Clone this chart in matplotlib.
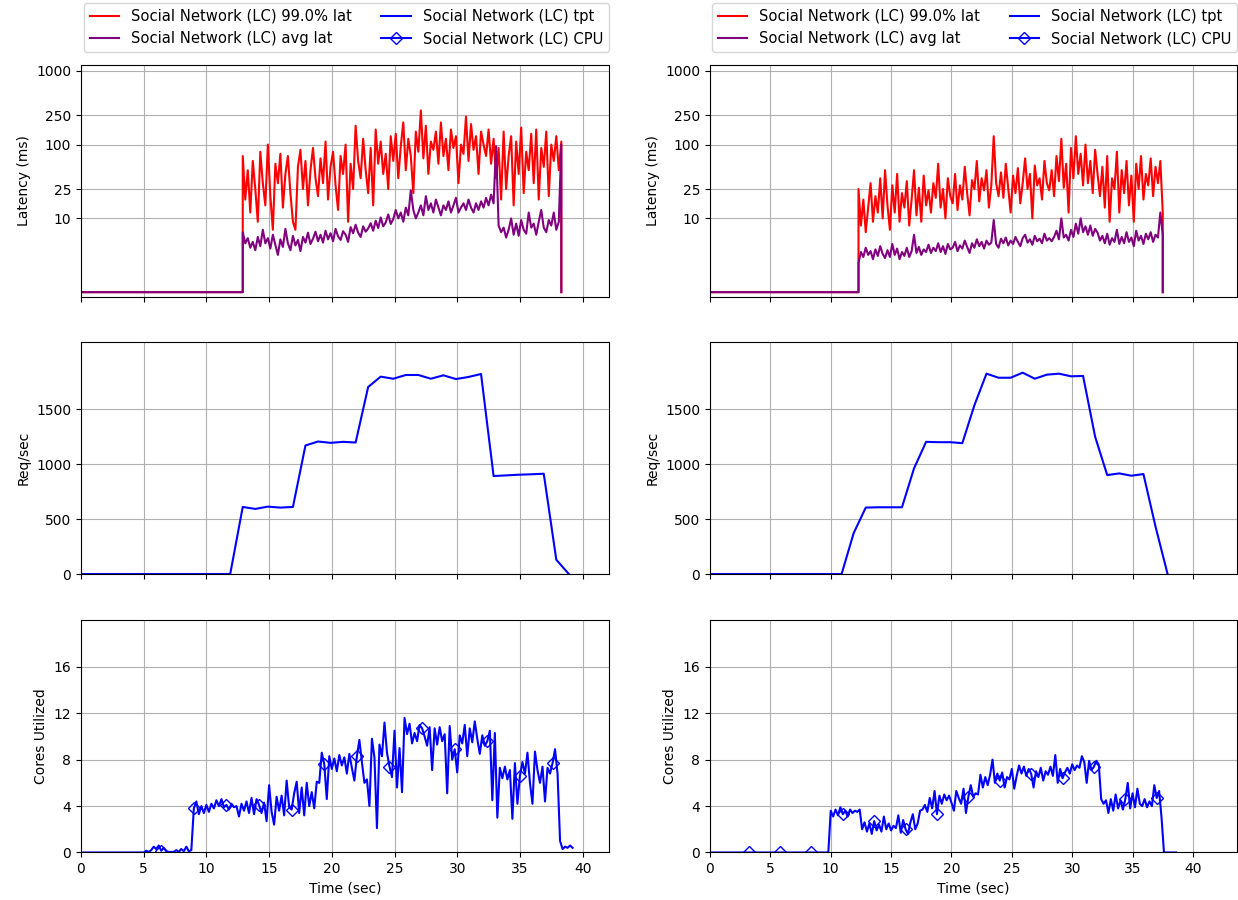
import matplotlib

matplotlib.use("Agg")
import matplotlib.pyplot as plt
import numpy as np

# ---- left run ----
lat_left_start = 12.9
p99_left = [
    70, 18, 45, 12, 60, 25, 9, 80, 30, 15, 100,
    20, 7, 55, 30, 75, 14, 40, 70, 22, 9,
    7, 50, 85, 25, 60, 15, 45, 90, 35, 20,
    65, 30, 110, 18, 50, 80, 28, 13, 70, 40,
    100, 9, 55, 25, 180, 60, 35, 120, 45, 22,
    90, 15, 160, 55, 110, 40, 75, 25, 130, 60,
    140, 35, 95, 200, 45, 120, 70, 22, 150, 80,
    290, 65, 180, 40, 110, 85, 150, 55, 200, 70,
    120, 45, 160, 90, 130, 30, 100, 75, 240, 60,
    190, 85, 130, 40, 150, 100, 70, 160, 55, 120,
    35, 90, 18, 150, 25, 70, 130, 15, 110, 40,
    170, 22, 80, 45, 140, 30, 160, 18, 90, 50,
    150, 20, 100, 60, 130, 45, 110,
]
avg_left = [
    6.5, 4.6, 5.4, 4.0, 4.8, 3.7, 5.6, 4.2, 7.0, 4.6, 5.4,
    3.9, 6.0, 4.4, 3.2, 5.2, 4.1, 7.2, 4.6, 3.7, 5.8,
    4.3, 5.1, 3.6, 5.6, 4.7, 6.4, 4.5, 5.3, 6.6, 4.9,
    6.0, 4.7, 6.8, 5.2, 6.3, 4.9, 7.2, 5.7, 5.1, 6.7,
    6.0, 4.8, 7.6, 6.3, 8.2, 6.4, 5.6, 7.8, 6.6, 7.3,
    8.6, 6.8, 9.3, 7.4, 10.3, 7.8, 8.8, 11.3, 8.4, 9.8,
    13, 10, 12, 9, 14, 11, 24, 13, 10, 12,
    15, 11, 20, 13, 16, 12, 18, 14, 11, 15,
    13, 17, 12, 15, 19, 12, 14, 16, 13, 18,
    14, 12, 16, 13, 17, 14, 19, 15, 21, 16,
    95, 8, 6.5, 7.5, 5.5, 7, 10, 6, 8.5, 5.8,
    9.5, 7, 6.2, 12, 7.5, 8.5, 6, 9, 13, 7.5,
    6.5, 9.5, 8, 12, 7, 9, 100,
]
tpt_left = [
    0, 0, 0, 0, 0, 0, 0, 0, 0, 0, 0, 0, 0,
    610, 592, 613, 604, 610, 1169, 1205, 1193, 1202, 1196,
    1701, 1795, 1776, 1810, 1810, 1776, 1807, 1773, 1792, 1819,
    891, 897, 903, 907, 912, 130, 0,
]
cpu_left = [
    0, 0, 0, 0, 0, 0, 0, 0, 0, 0,
    0, 0, 0, 0, 0, 0, 0, 0, 0, 0,
    0, 0, 0, 0, 0,
    0.0, 0.15, 0.05, 0.2, 0.5, 0.3, 0.6, 0.15, 0.4, 0.1,
    0.05, 0.05, 0.05, 0.2, 0.05, 0.3, 0.1, 0.5, 0.1, 0.2,
    3.8, 4.4, 3.3, 4.0, 3.4, 4.1, 3.5, 4.2, 3.8, 4.5,
    4.0, 4.6, 3.9, 4.1, 3.7, 4.2, 3.9, 4.0, 3.1, 4.2,
    3.6, 4.4, 3.4, 4.7, 3.3, 4.6, 4.1, 3.4, 4.3, 2.7,
    5.8, 3.5, 2.4, 4.8, 3.6, 4.9, 3.2, 6.2, 3.9, 3.7,
    5.1, 6.1, 3.4, 5.6, 3.2, 6.0, 4.0, 5.2, 3.8, 6.1,
    6.0, 8.6, 7.6, 4.6, 8.3, 7.2, 8.1, 7.0, 8.4, 7.5,
    8.2, 6.8, 8.5, 7.3, 6.2, 8.3, 9.7, 7.8, 6.0, 6.3,
    4.0, 9.8, 8.2, 2.1, 9.3, 8.3, 11.2, 8.6, 7.4, 6.5,
    10.5, 5.6, 9.0, 5.2, 11.6, 10.2, 11.1, 9.4, 10.3, 9.6,
    11.0, 10.7, 10.0, 9.2, 10.8, 7.1, 10.7, 9.3, 10.8, 9.6,
    10.2, 5.1, 10.9, 8.0, 8.9, 6.9, 10.1, 9.4, 11.0, 8.3,
    10.7, 9.5, 11.3, 9.8, 8.5, 10.1, 9.2, 9.6, 10.5, 4.5,
    10.3, 3.0, 7.3, 6.4, 7.4, 6.3, 7.1, 2.9, 7.7, 4.2,
    6.6, 7.8, 6.8, 8.6, 6.0, 4.2, 8.7, 7.1, 6.0, 7.4,
    4.4, 7.3, 6.8, 7.7, 8.9, 6.8, 1.0, 0.3, 0.5, 0.4,
    0.6, 0.4,
]

# ---- right run ----
lat_right_start = 12.3
p99_right = [
    25, 8, 18, 6.5, 14, 30, 9, 20, 12, 35,
    10, 45, 15, 7, 28, 12, 40, 9, 22, 14,
    32, 8, 18, 45, 11, 26, 9, 38, 15, 24,
    12, 30, 19, 55, 14, 25, 10, 35, 20, 16,
    40, 13, 28, 18, 50, 22, 11, 33, 25, 60,
    17, 35, 24, 45, 14, 28, 130, 30, 20, 42,
    19, 55, 26, 12, 38, 22, 48, 16, 30, 65,
    25, 40, 10, 52, 28, 35, 18, 60, 30, 24,
    45, 20, 70, 32, 120, 26, 55, 12, 90, 35,
    130, 40, 75, 28, 100, 30, 60, 22, 85, 40,
    20, 50, 14, 70, 9, 35, 25, 80, 12, 45,
    22, 60, 15, 38, 9, 55, 25, 70, 18, 40,
    28, 65, 20, 50, 30, 60, 12,
]
avg_right = [
    2.5, 3.5, 3.0, 4.0, 3.2, 3.6, 2.8, 3.8, 3.1, 4.2,
    3.3, 2.9, 3.7, 3.0, 4.5, 3.2, 3.9, 2.8, 3.5, 3.1,
    4.0, 3.0, 3.6, 6.0, 3.4, 4.1, 3.2, 3.8, 3.5, 4.4,
    3.4, 4.0, 3.6, 4.6, 3.5, 4.2, 3.3, 4.5, 3.8, 4.0,
    4.8, 3.6, 4.3, 3.9, 5.0, 4.1, 3.4, 4.6, 4.0, 5.2,
    4.2, 4.8, 3.9, 5.0, 4.4, 4.7, 9.5, 4.5, 4.0, 5.3,
    4.6, 5.5, 4.3, 5.0, 4.5, 5.6, 4.8, 4.2, 5.4, 6.0,
    4.7, 5.2, 4.4, 5.8, 4.9, 5.3, 4.6, 6.2, 5.0, 5.4,
    4.9, 5.6, 6.8, 5.2, 10.0, 5.5, 6.0, 5.0, 7.0, 5.6,
    8.5, 6.2, 10.0, 6.5, 7.8, 6.0, 8.0, 5.8, 7.2, 6.4,
    5.0, 5.8, 4.6, 6.2, 4.4, 5.4, 4.8, 7.0, 4.5, 5.6,
    4.6, 6.5, 4.8, 5.5, 4.2, 6.8, 5.0, 5.8, 4.5, 6.2,
    5.2, 6.5, 4.8, 6.0, 5.5, 12.0, 6.0,
]
tpt_right = [
    0, 0, 0, 0, 0, 0, 0, 0, 0, 0, 0, 0,
    372, 604, 607, 607, 607, 961, 1202, 1199, 1199, 1190,
    1535, 1822, 1785, 1785, 1831, 1776, 1813, 1822, 1798, 1801,
    1248, 900, 915, 894, 909, 432, 0,
]
cpu_right = [
    0, 0, 0, 0, 0, 0, 0, 0, 0, 0,
    0, 0, 0, 0, 0, 0, 0, 0, 0, 0,
    0, 0, 0, 0, 0, 0, 0, 0, 0, 0,
    0, 0, 0, 0, 0, 0, 0, 0, 0, 0,
    0, 0, 0, 0, 0, 0, 0, 0, 0, 0,
    3.6, 3.1, 3.7, 3.2, 3.9, 3.3, 3.6, 3.1, 3.7, 3.4,
    3.6, 3.5, 3.7, 2.0, 2.6, 1.8, 2.5, 1.6, 2.7, 1.9,
    2.4, 1.8, 3.1, 2.0, 2.5, 1.9, 2.3, 2.1, 3.2, 1.7,
    2.8, 2.0, 1.6, 2.6, 3.3, 2.0, 2.5, 3.6, 3.7, 4.1,
    3.5, 4.7, 3.8, 5.3, 3.3, 4.9, 4.2, 5.0, 4.5, 4.9,
    4.3, 3.6, 5.3, 4.7, 4.2, 5.5, 3.4, 4.8, 5.8, 4.8,
    5.1, 5.0, 6.7, 5.6, 6.5, 5.8, 6.7, 8.0, 6.0, 6.8,
    6.2, 6.9, 5.6, 6.5, 6.3, 7.2, 5.5, 6.6, 7.5, 6.8,
    7.4, 6.6, 7.2, 6.8, 5.6, 7.0, 6.5, 7.3, 6.2, 7.0,
    6.7, 7.4, 6.6, 8.4, 6.0, 7.2, 6.4, 6.9, 7.3, 6.8,
    7.6, 7.1, 7.5, 7.3, 8.3, 7.8, 6.0, 7.9, 7.1, 7.4,
    7.9, 7.6, 4.6, 4.2, 4.5, 3.4, 4.6, 3.6, 5.0, 3.8,
    4.5, 3.7, 4.6, 6.0, 3.8, 5.1, 3.9, 5.5, 4.2, 4.0,
    4.6, 3.9, 4.4, 4.0, 5.8, 4.7, 5.3, 3.0, 0.0, 0.0,
    0.0, 0.0, 0.0, 0.0,
]

LAT_STEP = 0.2
CPU_STEP = 0.2
LAT_TICKS = [10, 25, 100, 250, 1000]
TPT_TICKS = [0, 500, 1000, 1500]
CPU_TICKS = [0, 4, 8, 12, 16]
LABEL = "Social Network (LC)"


def _lat_series(start, values):
    # idle period sits on the 1 ms floor, then vertical rise/drop
    t = start + LAT_STEP * np.arange(len(values))
    times = np.concatenate([[0.0, start], t, [t[-1]]])
    vals = np.concatenate([[1.0, 1.0], values, [1.0]])
    return times, vals


def draw_column(fig, left, width, xmax, start, p99, avg, tpt, cpu, cpu_mark_start):
    ax_lat = fig.add_axes([left, 0.67, width, 0.2578])
    ax_tpt = fig.add_axes([left, 0.3622, width, 0.2578], sharex=ax_lat)
    ax_cpu = fig.add_axes([left, 0.0528, width, 0.2578], sharex=ax_lat)

    t, v = _lat_series(start, p99)
    h1, = ax_lat.plot(t, v, color="red", label=f"{LABEL} 99.0% lat")
    t, v = _lat_series(start, avg)
    h2, = ax_lat.plot(t, v, color="purple", label=f"{LABEL} avg lat")
    ax_lat.set_yscale("log")
    ax_lat.set_ylim(0.86, 1200)
    ax_lat.set_yticks(LAT_TICKS, [str(x) for x in LAT_TICKS])
    ax_lat.minorticks_off()
    ax_lat.set_ylabel("Latency (ms)")

    tpt_t = np.arange(len(tpt)) - 0.1
    h3, = ax_tpt.plot(tpt_t, tpt, color="blue", label=f"{LABEL} tpt")
    ax_tpt.set_ylim(0, 2110)
    ax_tpt.set_yticks(TPT_TICKS)
    ax_tpt.set_ylabel("Req/sec")

    cpu_t = CPU_STEP * np.arange(len(cpu))
    h4, = ax_cpu.plot(cpu_t, cpu, color="blue", marker="D", fillstyle="none",
                      markevery=(cpu_mark_start, 13), label=f"{LABEL} CPU")
    ax_cpu.set_ylim(0, 20)
    ax_cpu.set_yticks(CPU_TICKS)
    ax_cpu.set_ylabel("Cores Utilized")
    ax_cpu.set_xlabel("Time (sec)")

    for ax in (ax_lat, ax_tpt, ax_cpu):
        ax.grid(True)
        ax.set_xlim(0, xmax)
        ax.set_xticks(range(0, 41, 5))
    ax_lat.tick_params(labelbottom=False)
    ax_tpt.tick_params(labelbottom=False)

    ax_lat.legend(handles=[h1, h2, h3, h4], ncol=2, loc="lower right",
                  bbox_to_anchor=(1.0, 1.056), borderaxespad=0, fontsize=10.6)


fig = plt.figure(figsize=(12.38, 9), dpi=100)
draw_column(fig, 0.0654, 0.4265, 42.1, lat_left_start, p99_left, avg_left,
            tpt_left, cpu_left, 32)
draw_column(fig, 0.5735, 0.4257, 43.65, lat_right_start, p99_right, avg_right,
            tpt_right, cpu_right, 16)
fig.savefig("out.png", dpi=100)
